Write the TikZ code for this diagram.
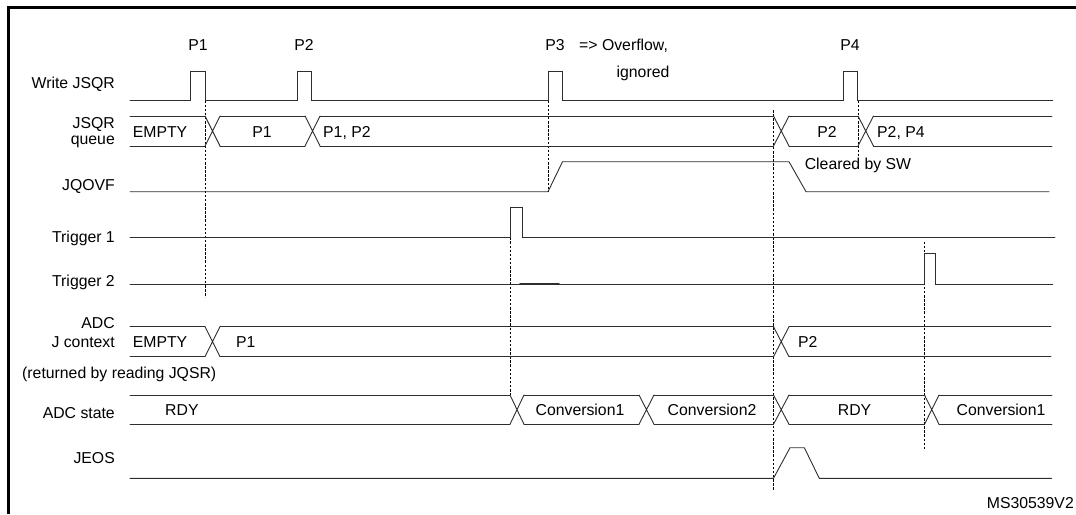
\documentclass[tikz,border=0pt]{standalone}
\usepackage{fontspec}
\setmainfont{Liberation Sans}
\usetikzlibrary{arrows.meta}
\definecolor{wave}{HTML}{2E2E2E}
\tikzset{
  sig/.style={draw=wave, line width=0.9pt, line cap=round, line join=miter},
  guide/.style={draw=black, line width=0.7pt, dash pattern=on 2.5pt off 1.6pt},
  frame/.style={draw=black, line width=3pt},
  lab/.style={anchor=base east, yshift=-5.6pt, inner sep=0pt,
    font=\fontsize{15.8}{18}\selectfont},
  val/.style={lab, anchor=base west},
  valc/.style={lab, anchor=base}
}

\begin{document}
\begin{tikzpicture}[x=1pt,y=-1pt]
  \useasboundingbox (0,0) rectangle (1076,514);
  \draw[frame] (8,514) -- (8,7.3) -- (1076,7.3);

  % row names
  \foreach \y/\t [count=\i] in {83/Write JSQR, 122.5/JSQR, 138.5/queue, 185/JQOVF,
      236.7/Trigger 1, 280.5/Trigger 2, 323.3/ADC, 342/J context, 413/ADC state, 458.3/JEOS}
    \node[lab] (row\i) at (115,\y) {\t};
  \node[val] (note) at (22,373) {(returned by reading JQSR)};

  % guides
  \foreach \x/\a/\b in {205/100.5/297.3, 548/100.5/191.7, 773.5/110/490,
      858/100.5/160, 510/237.3/395, 924.5/241.7/450}
    \draw[guide] (\x,\a) -- (\x,\b);

  % Write JSQR
  \draw[sig] (130,100.5) \foreach \x in {190.5,297,548,843.2}
    { -- (\x,100.5) -- (\x,71) -- (\x+14.6,71) -- (\x+14.6,100.5) } -- (1052.6,100.5);
  \foreach \x/\t [count=\i] in {198/P1, 304/P2, 555/P3, 850/P4}
    \node[valc] (p\i) at (\x,45) {\t};
  \node[val] (ovf) at (579,45) {=> Overflow,};
  \node[valc] (ign) at (643,72) {ignored};

  % JSQR queue
  \foreach \a/\b in {130/205, 220/305, 320/773.5, 789/858, 873.5/1052}
    \draw[sig] (\a,116) -- (\b,116) (\a,146) -- (\b,146);
  \foreach \a/\b in {205/220, 305/320, 773.5/789, 858/873.5}
    \draw[sig] (\a,116) -- (\b,146) (\a,146) -- (\b,116);
  \node[val] (q0) at (132.6,131.5) {EMPTY};
  \node[valc] (q1) at (262,131.5) {P1};
  \node[val] (q2) at (323,131.5) {P1, P2};
  \node[valc] (q3) at (827,131.5) {P2};
  \node[val] (q4) at (877,131.5) {P2, P4};

  % JQOVF
  \draw[sig] (130,191.7) -- (548,191.7) -- (562.5,161.7) -- (789,161.7) -- (806,191.7) -- (1049,191.7);
  \node[val] (clr) at (804.6,163.5) {Cleared by SW};

  % triggers
  \draw[sig] (130,237.3) -- (510,237.3) -- (510,207.3) -- (522,207.3) -- (522,237.3) -- (1055,237.3);
  \draw[sig] (130,284) -- (924.5,284) -- (924.5,253.3) -- (935.5,253.3)
    -- (935.5,284) -- (1052.6,284);
  \draw[sig, line width=1.6pt] (520,284) -- (559,284);

  % ADC J context
  \foreach \a/\b in {130/205, 220/773.5, 789/1051}
    \draw[sig] (\a,326.7) -- (\b,326.7) (\a,356.7) -- (\b,356.7);
  \foreach \a/\b in {205/220, 773.5/789}
    \draw[sig] (\a,326.7) -- (\b,356.7) (\a,356.7) -- (\b,326.7);
  \node[val] (j0) at (132.6,341.7) {EMPTY};
  \node[val] (j1) at (236,341.7) {P1};
  \node[val] (j2) at (798,341.7) {P2};

  % ADC state
  \foreach \a/\b in {130/510, 524/639, 654/773.5, 789/924.5, 939/1052}
    \draw[sig] (\a,395) -- (\b,395) (\a,424.3) -- (\b,424.3);
  \foreach \a/\b in {510/524, 639/654, 773.5/789, 924.5/939}
    \draw[sig] (\a,395) -- (\b,424.3) (\a,424.3) -- (\b,395);
  \node[val] (s0) at (165,410) {RDY};
  \foreach \x/\t [count=\i] in {580/Conversion1, 712/Conversion2, 854.6/RDY, 1001/Conversion1}
    \node[valc] (s\i) at (\x,410) {\t};

  % JEOS
  \draw[sig] (130,478.3) -- (773.5,478.3) -- (790,447.7) -- (804.3,447.7) -- (819.3,478.3) -- (1051.5,478.3);

  \node[lab] (ref) at (1074,503) {MS30539V2};
\end{tikzpicture}
\end{document}
